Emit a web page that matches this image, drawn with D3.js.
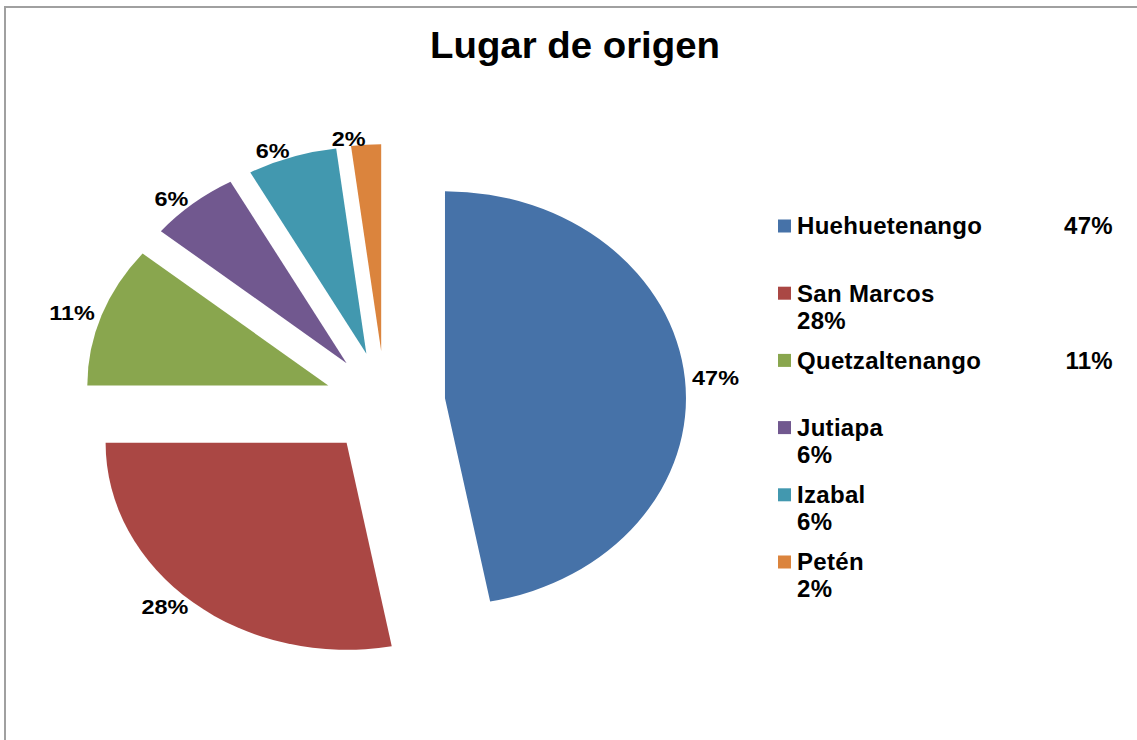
<!DOCTYPE html>
<html>
<head>
<meta charset="utf-8">
<script src="https://cdn.jsdelivr.net/npm/d3@7"></script>
<style>
  body { margin: 0; background: #fff; }
  text { font-family: "Liberation Sans", Arial, sans-serif; font-weight: bold; fill: #000; }
</style>
</head>
<body>
<div id="chart"></div>
<script>
// data
var categories = ['Huehuetenango', 'San Marcos', 'Quetzaltenango', 'Jutiapa', 'Izabal', 'Petén'];
var values = [47, 28, 11, 6, 6, 2];
var colors = ['#4672A8', '#AA4744', '#89A64E', '#71588F', '#4298AF', '#DB843D'];
var title = 'Lugar de origen';

var width = 1137, height = 740;
var cx = 385, cy = 403;      // pie centre
var rx = 241, ry = 207;      // pie is stretched horizontally
var explode = 0.25;

var svg = d3.select('#chart')
  .append('svg')
  .attr('width', width)
  .attr('height', height);

// chart area border
svg.append('rect')
  .attr('x', 5)
  .attr('y', 7)
  .attr('width', width + 20)
  .attr('height', height + 20)
  .attr('fill', 'none')
  .attr('stroke', '#a0a0a0')
  .attr('stroke-width', 2);

svg.append('text')
  .attr('x', 575)
  .attr('y', 58)
  .attr('text-anchor', 'middle')
  .attr('textLength', 290)
  .attr('lengthAdjust', 'spacingAndGlyphs')
  .style('font-size', '37px')
  .text(title);

var total = d3.sum(values);
var pct = d3.format('.0%');

var pie = d3.pie().sort(null).value(function(d) { return d; });
var arcs = pie(values);
var arc = d3.arc().innerRadius(0).outerRadius(ry);

function mid(d) { return (d.startAngle + d.endAngle) / 2; }

svg.selectAll('path.slice')
  .data(arcs)
  .enter()
  .append('path')
  .attr('class', 'slice')
  .attr('d', arc)
  .attr('fill', function(d, i) { return colors[i]; })
  .attr('transform', function(d) {
    var a = mid(d);
    var ox = cx + explode * rx * Math.sin(a);
    var oy = cy - explode * ry * Math.cos(a);
    return 'translate(' + ox + ',' + oy + ') scale(' + (rx / ry) + ',1)';
  });

// data labels, just outside each slice
var k = 1 + explode + 0.03;
svg.selectAll('text.dlabel')
  .data(arcs)
  .enter()
  .append('text')
  .attr('class', 'dlabel')
  .attr('x', function(d) { return cx + k * rx * Math.sin(mid(d)); })
  .attr('y', function(d) { return cy - k * ry * Math.cos(mid(d)); })
  .attr('dy', '0.35em')
  .attr('text-anchor', function(d) { return Math.sin(mid(d)) > 0 ? 'start' : 'end'; })
  .style('font-size', '20px')
  .text(function(d) { return pct(d.value / total); })
  .each(function() {
    // the original labels are drawn a bit wider than the font
    var w = this.getComputedTextLength();
    d3.select(this).attr('textLength', w * 1.17).attr('lengthAdjust', 'spacingAndGlyphs');
  });

// legend
var legend = svg.selectAll('g.legend')
  .data(categories)
  .enter()
  .append('g')
  .attr('class', 'legend')
  .attr('transform', function(d, i) { return 'translate(778,' + (226 + i * 67.2) + ')'; });

legend.append('rect')
  .attr('x', 0)
  .attr('y', -6.5)
  .attr('width', 13)
  .attr('height', 13)
  .attr('fill', function(d, i) { return colors[i]; });

legend.append('text')
  .attr('x', 19)
  .attr('dy', '0.35em')
  .style('font-size', '24px')
  .style('letter-spacing', '0.3px')
  .text(function(d) { return d; });

// long names keep the percent on the same line, short ones wrap
legend.append('text')
  .attr('x', function(d) { return d.length > 12 ? 335 : 19; })
  .attr('y', function(d) { return d.length > 12 ? 0 : 27; })
  .attr('dy', '0.35em')
  .attr('text-anchor', function(d) { return d.length > 12 ? 'end' : 'start'; })
  .style('font-size', '24px')
  .style('letter-spacing', '0.3px')
  .text(function(d, i) { return pct(values[i] / total); });
</script>
</body>
</html>
